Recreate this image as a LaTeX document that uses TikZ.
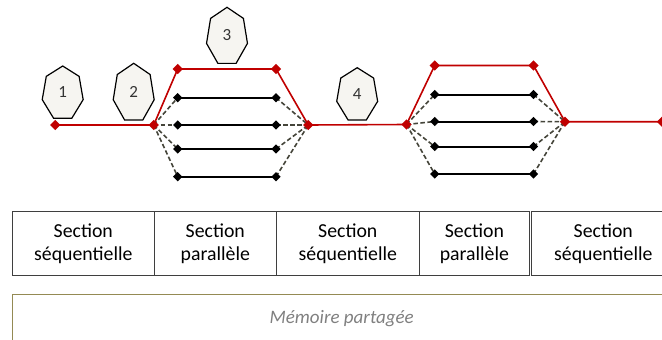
\documentclass[tikz,border=0pt]{standalone}
\usepackage{fontspec}
\setmainfont{Carlito}
\usetikzlibrary{shapes.geometric,backgrounds}
\definecolor{cred}{HTML}{C00000}
\definecolor{cdash}{HTML}{45453A}
\definecolor{colive}{HTML}{948A54}
\definecolor{cgrid}{HTML}{3F3F3F}
\definecolor{hfill}{HTML}{F6F5F1}
\definecolor{memtext}{HTML}{808080}
\newcommand\heptashape[4]{%
  \begin{scope}[shift={(#1,#2)}]
    \draw[hept] (-90:#3 and #4) \foreach \k in {1,...,6} { -- ({-90+\k*360/7}:#3 and #4) } -- cycle;
  \end{scope}}
\begin{document}
\begin{tikzpicture}[x=1pt,y=-1pt,
  rd/.style={diamond, fill=cred, inner sep=0pt, minimum size=10.5pt},
  bd/.style={diamond, fill=black, inner sep=0pt, minimum size=9.5pt},
  redline/.style={cred, line width=1.6pt},
  blkline/.style={black, line width=2pt},
  dashline/.style={cdash, line width=1.6pt, dash pattern=on 4.5pt off 2.5pt},
  hept/.style={draw=black, fill=hfill, line width=1.2pt},
  hlabel/.style={font=\fontsize{17}{17}\selectfont, text=black!80},
  cell/.style={draw=cgrid, line width=1pt, align=center, inner sep=0pt,
    minimum height=63.3pt, font=\fontsize{19.8}{23}\selectfont, text=black},
  memtxt/.style={font=\fontsize{19}{19}\selectfont\itshape, text=memtext}
]
\useasboundingbox (0,0) rectangle (662,340);
\begin{scope}
\clip (0,0) rectangle (662,340);
% heptagons
\heptashape{62.7}{93.5}{21}{27.5}
\heptashape{133.7}{93.1}{21}{29.8}
\heptashape{227}{36.8}{21}{29.5}
\heptashape{357.2}{95.2}{21}{27.5}
\node[hlabel] (h1) at (62.7,92.2) {1};
\node[hlabel] (h2) at (133.7,91.7) {2};
\node[hlabel] (h3) at (227,35.3) {3};
\node[hlabel] (h4) at (357.2,93.9) {4};
% red path diamonds
\node[rd] (a1) at (55.3,125) {};
\node[rd] (a2) at (153.7,125) {};
\node[rd] (a3) at (177.7,69) {};
\node[rd] (a4) at (276,69) {};
\node[rd] (a5) at (308.3,125) {};
\node[rd] (b1) at (406.5,124.5) {};
\node[rd] (b2) at (434.7,65.5) {};
\node[rd] (b3) at (533.5,65.5) {};
\node[rd] (b4) at (565,121.7) {};
\node[rd] (b5) at (662,121.7) {};
% black diamonds group 1
\node[bd] (p1L) at (177.7,97.7) {};
\node[bd] (p2L) at (177.7,125) {};
\node[bd] (p3L) at (177.7,149) {};
\node[bd] (p4L) at (177.7,176.7) {};
\node[bd] (p1R) at (276,97.7) {};
\node[bd] (p2R) at (276,125) {};
\node[bd] (p3R) at (276,149) {};
\node[bd] (p4R) at (276,176.7) {};
% black diamonds group 2
\node[bd] (q1L) at (434.7,94.5) {};
\node[bd] (q2L) at (434.7,121.5) {};
\node[bd] (q3L) at (434.7,146.5) {};
\node[bd] (q4L) at (434.7,174) {};
\node[bd] (q1R) at (533.5,94.5) {};
\node[bd] (q2R) at (533.5,121.5) {};
\node[bd] (q3R) at (533.5,146.5) {};
\node[bd] (q4R) at (533.5,174) {};
\begin{scope}[on background layer]
\draw[redline] (a1.center) -- (a2.center) -- (a3.center) -- (a4.center) -- (a5.center)
  -- (b1.center) -- (b2.center) -- (b3.center) -- (b4.center) -- (b5.center);
\foreach \i in {1,2,3,4} {
  \draw[blkline] (p\i L.center) -- (p\i R.center);
  \draw[blkline] (q\i L.center) -- (q\i R.center);
  \draw[dashline] (a2.center) -- (p\i L.center);
  \draw[dashline] (p\i R.center) -- (a5.center);
  \draw[dashline] (b1.center) -- (q\i L.center);
  \draw[dashline] (q\i R.center) -- (b4.center);
}
\end{scope}
% table of sections
\node[cell, minimum width=142pt] (c1) at (83.3,243.35) {Section\\séquentielle};
\node[cell, minimum width=122pt] (c2) at (215.3,243.35) {Section\\parallèle};
\node[cell, minimum width=143pt] (c3) at (347.8,243.35) {Section\\séquentielle};
\node[cell, minimum width=110.2pt] (c4) at (474.4,243.35) {Section\\parallèle};
\node[cell, minimum width=143pt] (c5) at (603.3,243.35) {Section\\séquentielle};
% shared memory
\draw[colive, line width=1.5pt] (12.3,294.3) rectangle (700,380);
\node[memtxt] (mem) at (341.7,318.3) {Mémoire partagée};
\end{scope}
\end{tikzpicture}
\end{document}
